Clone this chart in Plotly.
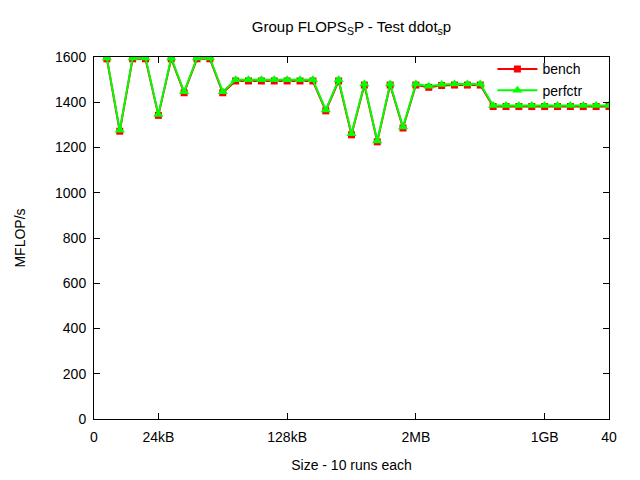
import plotly.graph_objects as go

x = list(range(1, 41))
bench = [1592, 1272, 1592, 1592, 1342, 1592, 1442, 1592, 1592, 1442,
         1494, 1494, 1494, 1494, 1494, 1494, 1494, 1362, 1494, 1256,
         1476, 1225, 1476, 1286, 1476, 1466, 1474, 1476, 1476, 1476,
         1381, 1381, 1381, 1381, 1381, 1381, 1381, 1381, 1381, 1381]
perfctr = [1596, 1276, 1596, 1596, 1346, 1596, 1446, 1596, 1596, 1446,
           1499, 1499, 1499, 1499, 1499, 1499, 1499, 1366, 1499, 1261,
           1481, 1229, 1481, 1291, 1481, 1471, 1479, 1481, 1481, 1481,
           1386, 1386, 1386, 1386, 1386, 1386, 1386, 1386, 1386, 1386]
xtick_vals = [0, 5, 15, 25, 35, 40]
xtick_text = ["0", "24kB", "128kB", "2MB", "1GB", "40"]
ytick_vals = list(range(0, 1601, 200))

fam = "Liberation Sans, Arial, sans-serif"
font = dict(family=fam, size=14, color="black")

fig = go.Figure()
fig.add_trace(go.Scatter(x=x, y=bench, name="bench", mode="lines+markers",
                         line=dict(color="#ff0000", width=2),
                         marker=dict(symbol="square", size=7, color="#ff0000")))
fig.add_trace(go.Scatter(x=x, y=perfctr, name="perfctr", mode="lines+markers",
                         line=dict(color="#00ff00", width=2),
                         marker=dict(symbol="triangle-up", size=9, color="#00ff00")))

axis_common = dict(ticks="inside", ticklen=6, tickcolor="black", showline=True,
                   linecolor="black", linewidth=1, mirror="allticks", showgrid=False,
                   zeroline=False, automargin=False,
                   tickfont=dict(family=fam, size=14, color="black"))

fig.update_layout(
    width=640, height=480,
    margin=dict(l=94, r=31, t=57, b=61),
    paper_bgcolor="white", plot_bgcolor="white",
    font=font,
    title=dict(text="Group FLOPS<sub>S</sub>P - Test ddot<sub>s</sub>p",
               x=(94 + 609) / 2 / 640, xanchor="center", y=1 - 27 / 480, yanchor="middle",
               font=dict(family=fam, size=15, color="black")),
    xaxis=dict(range=[0, 40], tickvals=xtick_vals, ticktext=xtick_text,
               ticklabelstandoff=5,
               title=dict(text="Size - 10 runs each", standoff=16,
                          font=dict(family=fam, size=14, color="black")),
               **axis_common),
    yaxis=dict(range=[0, 1600], tickvals=ytick_vals, ticklabelstandoff=4,
               title=dict(text="MFLOP/s", standoff=26,
                          font=dict(family=fam, size=14, color="black")),
               **axis_common),
    legend=dict(x=0.96, xanchor="right", y=1.01, yanchor="top",
                bgcolor="rgba(0,0,0,0)", font=dict(family=fam, size=14, color="black"),
                tracegroupgap=0, itemwidth=40),
    showlegend=True,
)

fig.write_html("out.html")
